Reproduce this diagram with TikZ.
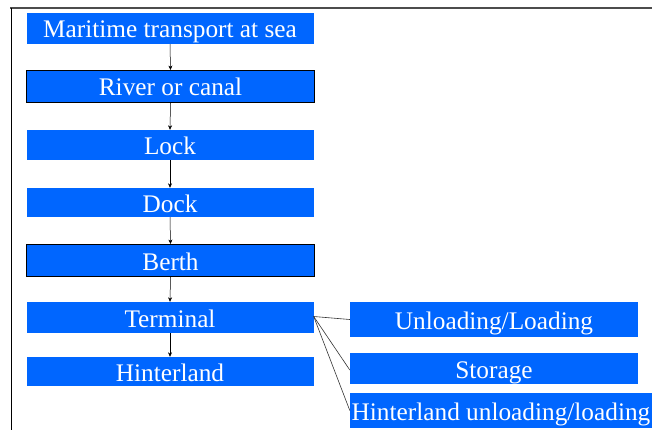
\documentclass[tikz,border=0pt]{standalone}
\usepackage{fontspec}
\setmainfont{Liberation Serif}
\usetikzlibrary{arrows.meta}
\definecolor{boxblue}{HTML}{0066FF}
\begin{document}
\begin{tikzpicture}[x=1pt,y=-1pt,
  box/.style={rectangle, fill=boxblue, inner sep=0pt, text=white,
    font=\fontsize{25.3}{26}\selectfont, anchor=center,
    text height=19.5pt, text depth=0.5pt},
  leftbox/.style={box, minimum width=287pt},
  bordered/.style={draw=black, line width=1pt},
  flow/.style={draw=black, line width=0.5pt, -{Stealth[length=4.5pt,width=4pt]}},
  link/.style={draw=black!80, line width=0.6pt}]
\useasboundingbox (0,0) rectangle (652,430);
\draw[line width=1.4pt, black!70] (10,8) -- (652,8);
\draw[line width=1.4pt, black] (11.5,8) -- (11.5,430);
\node[leftbox, minimum height=31pt] (sea) at (170,28.5) {Maritime transport at sea};
\node[leftbox, bordered, minimum width=288pt, minimum height=32pt] (river) at (170.5,86.5) {River or canal};
\node[leftbox, minimum height=30pt] (lock) at (170,145) {Lock};
\node[leftbox, minimum height=29pt] (dock) at (170,202.5) {Dock};
\node[leftbox, bordered, minimum width=288pt, minimum height=32pt] (berth) at (170.5,260.5) {Berth};
\node[leftbox, minimum height=31pt] (terminal) at (170,317.5) {Terminal};
\node[leftbox, minimum height=29pt] (hinter) at (170,371.5) {Hinterland};
\node[box, minimum width=288pt, minimum height=35pt] (unload) at (494,319.5) {Unloading/Loading};
\node[box, minimum width=288pt, minimum height=31pt] (storage) at (494,368.5) {Storage};
\node[box, minimum width=302pt, minimum height=35pt] (hul) at (501,410.5) {Hinterland unloading/loading};
\draw[flow] (sea.south) -- (river.north);
\draw[flow] (river.south) -- (lock.north);
\draw[flow] (lock.south) -- (dock.north);
\draw[flow] (dock.south) -- (berth.north);
\draw[flow] (berth.south) -- (terminal.north);
\draw[flow] (terminal.south) -- (hinter.north);
\coordinate (tp) at ([yshift=1pt]terminal.east);
\draw[link] (tp) -- (unload.west);
\draw[link] (tp) -- ([yshift=-1.5pt]storage.west);
\draw[link] (tp) -- (hul.west);
\end{tikzpicture}
\end{document}
